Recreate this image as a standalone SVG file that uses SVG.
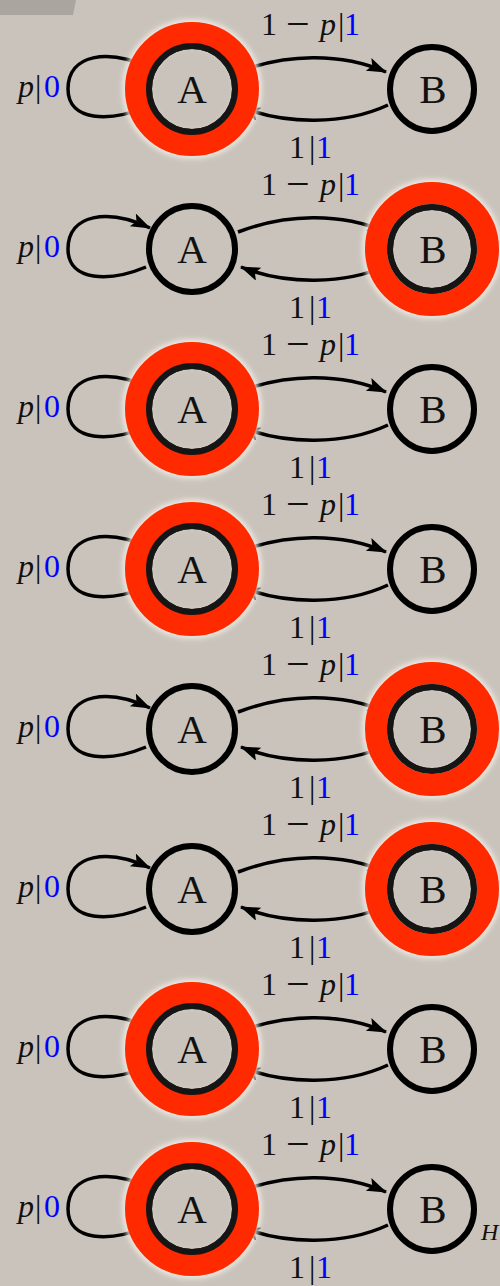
<svg xmlns="http://www.w3.org/2000/svg" width="500" height="1286" viewBox="0 0 500 1286">
<style>
.bg{fill:#c9c3bb}
.edge{fill:none;stroke:#000;stroke-width:3.5}
.circ{fill:#c9c3bb;stroke:#000;stroke-width:6}
.ring{fill:none;stroke:#ff2a00;stroke-width:22}
.glow{fill:none;stroke:#f2eee6;stroke-width:28;opacity:0.85}
.lbl{font-family:"Liberation Serif",serif;font-size:32px;fill:#111}
.nm{font-family:"Liberation Serif",serif;font-size:41px;fill:#111;text-anchor:middle}
.it{font-style:italic}
.blue{fill:#0000ff}
.minus{font-size:42px}
</style>
<defs>
<marker id="ah" markerUnits="userSpaceOnUse" markerWidth="22" markerHeight="16" refX="19" refY="7" orient="auto">
<path d="M0,0 L20,7 L0,14 L4,7 z" fill="#000"/>
</marker>
<filter id="blur" x="-20%" y="-20%" width="140%" height="140%"><feGaussianBlur stdDeviation="2.5"/></filter>
<g id="edges">
<path class="edge" d="M146,107 C110,122 68,122 68,89 C68,54 108,48 150,68" marker-end="url(#ah)"/>
<path class="edge" d="M238,72 C285,54 340,52 386,72" marker-end="url(#ah)"/>
<path class="edge" d="M388,105 C345,125 285,125 241,107" marker-end="url(#ah)"/>
</g>
<g id="labels">
<text class="lbl" y="97"><tspan x="18" class="it">p</tspan><tspan x="35">|</tspan><tspan x="44" class="blue">0</tspan></text>
<text class="lbl" y="35"><tspan x="261">1</tspan><tspan x="286" dy="3" class="minus">−</tspan><tspan x="320" dy="-3" class="it">p</tspan><tspan x="338">|</tspan><tspan x="344" class="blue">1</tspan></text>
<text class="lbl" y="158"><tspan x="289">1</tspan><tspan x="309">|</tspan><tspan x="316" class="blue">1</tspan></text>
</g>
<g id="nodeA"><circle class="circ" cx="192" cy="89" r="43"/><text class="nm" x="192" y="103">A</text></g>
<g id="nodeB"><circle class="circ" cx="432" cy="89" r="42"/><text class="nm" x="433" y="103">B</text></g>
<g id="hlA"><circle class="glow" cx="192" cy="89" r="56" filter="url(#blur)"/><circle class="ring" cx="192" cy="89" r="56"/><circle class="circ" cx="192" cy="89" r="43" style="fill:none;stroke:#151515"/></g>
<g id="hlB"><circle class="glow" cx="432" cy="89" r="56" filter="url(#blur)"/><circle class="ring" cx="432" cy="89" r="56"/><circle class="circ" cx="432" cy="89" r="42" style="fill:none;stroke:#151515"/></g>
</defs>
<rect class="bg" x="0" y="0" width="500" height="1286"/>
<polygon points="0,0 76,0 73,15 0,15" fill="#aaa59e"/>
<g id="connectors">
<use href="#edges" transform="translate(0,0)"/>
<use href="#edges" transform="translate(0,160)"/>
<use href="#edges" transform="translate(0,320)"/>
<use href="#edges" transform="translate(0,480)"/>
<use href="#edges" transform="translate(0,640)"/>
<use href="#edges" transform="translate(0,800)"/>
<use href="#edges" transform="translate(0,960)"/>
<use href="#edges" transform="translate(0,1120)"/>
</g>
<g id="edge-labels">
<use href="#labels" transform="translate(0,0)"/>
<use href="#labels" transform="translate(0,160)"/>
<use href="#labels" transform="translate(0,320)"/>
<use href="#labels" transform="translate(0,480)"/>
<use href="#labels" transform="translate(0,640)"/>
<use href="#labels" transform="translate(0,800)"/>
<use href="#labels" transform="translate(0,960)"/>
<use href="#labels" transform="translate(0,1120)"/>
</g>
<g id="p1-A"><use href="#nodeA"/><use href="#hlA"/></g>
<g id="p1-B"><use href="#nodeB"/></g>
<g id="p2-A" transform="translate(0,160)"><use href="#nodeA"/></g>
<g id="p2-B" transform="translate(0,160)"><use href="#nodeB"/><use href="#hlB"/></g>
<g id="p3-A" transform="translate(0,320)"><use href="#nodeA"/><use href="#hlA"/></g>
<g id="p3-B" transform="translate(0,320)"><use href="#nodeB"/></g>
<g id="p4-A" transform="translate(0,480)"><use href="#nodeA"/><use href="#hlA"/></g>
<g id="p4-B" transform="translate(0,480)"><use href="#nodeB"/></g>
<g id="p5-A" transform="translate(0,640)"><use href="#nodeA"/></g>
<g id="p5-B" transform="translate(0,640)"><use href="#nodeB"/><use href="#hlB"/></g>
<g id="p6-A" transform="translate(0,800)"><use href="#nodeA"/></g>
<g id="p6-B" transform="translate(0,800)"><use href="#nodeB"/><use href="#hlB"/></g>
<g id="p7-A" transform="translate(0,960)"><use href="#nodeA"/><use href="#hlA"/></g>
<g id="p7-B" transform="translate(0,960)"><use href="#nodeB"/></g>
<g id="p8-A" transform="translate(0,1120)"><use href="#nodeA"/><use href="#hlA"/></g>
<g id="p8-B" transform="translate(0,1120)"><use href="#nodeB"/></g>
<text class="lbl it" x="481" y="1240" style="font-size:24px">H</text>
</svg>
